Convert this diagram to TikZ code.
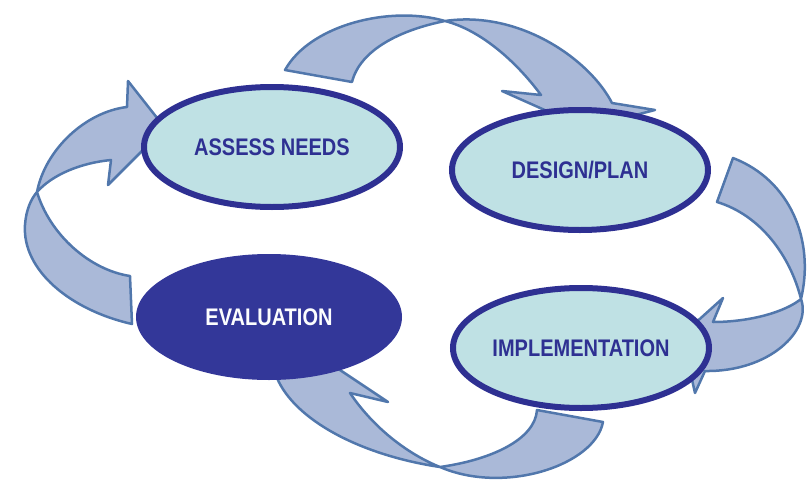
\documentclass[tikz,border=0pt]{standalone}
\usepackage{graphicx}
\usepackage{fontspec}
\setmainfont{Liberation Sans}
\usetikzlibrary{shapes.geometric}

\definecolor{ringblue}{HTML}{2E3092}
\definecolor{stagefill}{HTML}{BFE1E4}
\definecolor{evalfill}{HTML}{333799}
\definecolor{arrowfill}{HTML}{AAB9D8}
\definecolor{arrowline}{HTML}{5177AC}

\tikzset{
  stage/.style={ellipse, draw=ringblue, line width=6pt, fill=stagefill,
    minimum width=256pt, minimum height=120pt, inner sep=0pt,
    text=ringblue, font=\bfseries\fontsize{20}{22}\selectfont},
  evalstage/.style={stage, draw=none, fill=evalfill, text=white!95!stagefill,
    minimum width=266pt, minimum height=126pt},
  bigarrow/.style={fill=arrowfill, draw=arrowline, line width=2.5pt, line join=round},
}
\newcommand{\tall}[1]{\scalebox{1}[1.2]{#1}}

\begin{document}
\begin{tikzpicture}[x=1pt,y=-1pt]
  \useasboundingbox (0,0) rectangle (812,482);

  % twisted arrows, drawn first so the stages sit on top
  \draw[bigarrow] (132,324) .. controls (70,310) and (22,270) .. (25,225)
    .. controls (26,210) and (31,199) .. (37,192)
    .. controls (45,150) and (85,112) .. (127,107)
    -- (128,81) -- (165,128) -- (108,185) -- (111,160)
    .. controls (80,163) and (52,175) .. (37,192)
    .. controls (50,235) and (90,270) .. (130,276) -- cycle;
  \draw[bigarrow] (285,70) .. controls (310,25) and (390,5) .. (445,21)
    .. controls (520,10) and (590,60) .. (612,103)
    -- (655,110) -- (585,128) -- (502,91) -- (541,95)
    .. controls (515,60) and (480,30) .. (445,21)
    .. controls (400,30) and (360,50) .. (352,82) -- cycle;
  \draw[bigarrow] (733,158) .. controls (790,180) and (815,240) .. (801,299)
    .. controls (812,330) and (770,372) .. (705,371)
    -- (695,393) -- (682,335) -- (723,298) -- (713,322)
    .. controls (750,322) and (785,312) .. (801,299)
    .. controls (790,255) and (760,215) .. (717,202) -- cycle;
  \draw[bigarrow] (603,422) .. controls (595,465) and (505,495) .. (440,467)
    .. controls (360,455) and (295,420) .. (277,378)
    -- (262,372) -- (310,350) -- (388,402) -- (350,393)
    .. controls (375,430) and (410,455) .. (440,467)
    .. controls (490,460) and (535,440) .. (537,410) -- cycle;

  % the four stages
  \node[stage] (assess) at (272,147) {\tall{ASSESS NEEDS}};
  \node[stage] (design) at (580,170) {\tall{DESIGN/PLAN}};
  \node[stage] (implement) at (581,348) {\tall{IMPLEMENTATION}};
  \node[evalstage] (evaluate) at (269,317) {\tall{EVALUATION}};
\end{tikzpicture}
\end{document}
